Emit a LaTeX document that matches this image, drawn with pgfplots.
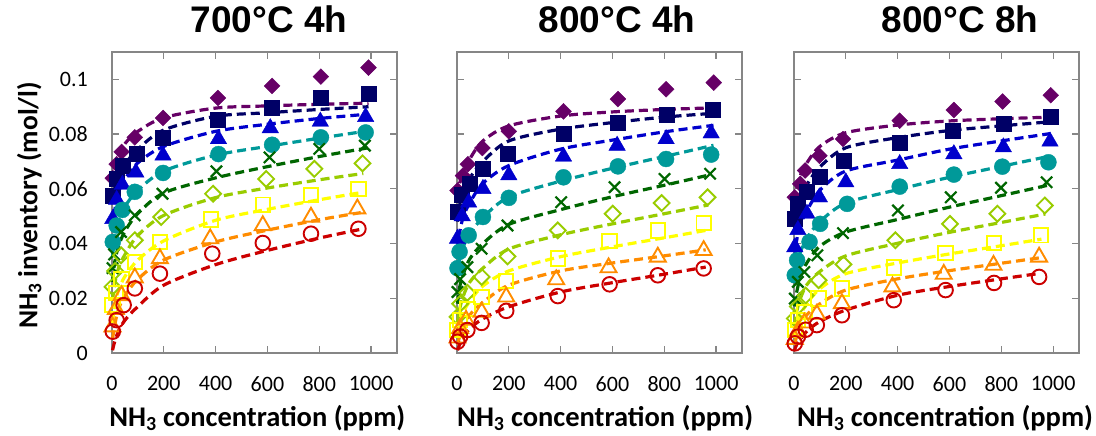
\documentclass[border=0pt]{standalone}
\usepackage{pgfplots}
\pgfplotsset{compat=1.18}
\usepackage{fontspec}
\setmainfont{Carlito}
\newfontfamily\titlefont{Liberation Sans}
\definecolor{cP}{RGB}{102,0,102}
\definecolor{cN}{RGB}{0,0,102}
\definecolor{cB}{RGB}{0,0,204}
\definecolor{cT}{RGB}{0,153,153}
\definecolor{cG}{RGB}{0,102,0}
\definecolor{cYG}{RGB}{153,204,0}
\definecolor{cY}{RGB}{255,255,0}
\definecolor{cO}{RGB}{255,140,0}
\definecolor{cR}{RGB}{204,0,0}
\definecolor{frame}{RGB}{134,134,134}
\pgfplotsset{
  panel/.style={
    scale only axis, width=285bp, height=301bp,
    xmin=0, xmax=1100, ymin=0, ymax=0.11, clip=false,
    xtick={0,200,400,600,800,1000},
    xticklabels={0,200,400,600,800,1000},
    ytick={0,0.02,0.04,0.06,0.08,0.1},
    tick align=inside, major tick length=7bp,
    axis line style={draw=frame, line width=1.2bp},
    tick style={draw=frame, line width=1.2bp},
    xticklabel style={font=\fontsize{22bp}{24bp}\selectfont, anchor=north, inner sep=0pt, yshift=-23bp},
    yticklabel style={font=\fontsize{22bp}{24bp}\selectfont, anchor=east, inner sep=0pt, xshift=-24bp},
    xlabel={NH\textsubscript{3} concentration (ppm)},
    xlabel style={font=\bfseries\fontsize{28.5bp}{30bp}\selectfont, anchor=center, inner sep=1bp, yshift=-65bp},
    title style={font=\titlefont\bfseries\fontsize{37bp}{40bp}\selectfont, anchor=base, yshift=13.4bp},
  },
  mP/.style={only marks, mark=square*, mark size=5.6bp, mark options={rotate=45, draw=cP, fill=cP}},
  mN/.style={only marks, mark=square*, mark size=7.5bp, mark options={draw=cN, fill=cN}},
  mB/.style={only marks, mark=triangle*, mark size=9.5bp, mark options={draw=cB, fill=cB}},
  mT/.style={only marks, mark=*, mark size=8bp, mark options={draw=cT, fill=cT}},
  mG/.style={only marks, mark=x, mark size=8bp, mark options={draw=cG, line width=2.2bp}},
  mYG/.style={only marks, mark=square, mark size=5.6bp, mark options={rotate=45, draw=cYG, line width=1.9bp}},
  mY/.style={only marks, mark=square, mark size=7.2bp, mark options={draw=cY, line width=1.9bp}},
  mO/.style={only marks, mark=triangle, mark size=9.2bp, mark options={draw=cO, line width=1.9bp}},
  mR/.style={only marks, mark=o, mark size=7.3bp, mark options={draw=cR, line width=1.9bp}},
  fit/.style={no marks, smooth, line width=3.2bp, dash pattern=on 9bp off 5bp},
}
\begin{document}
\begin{tikzpicture}
\useasboundingbox (0,0) rectangle (1096bp,436bp);
% ---------------- Panel 1 ----------------
\begin{axis}[panel, at={(112bp,83bp)}, anchor=south west,
  yticklabels={0,0.02,0.04,0.06,0.08,0.1},
  title={700°C 4h}, title style={at={(axis description cs:0.551,1)}},
  ylabel={NH\textsubscript{3} inventory (mol/l)},
  ylabel style={font=\bfseries\fontsize{27.5bp}{29bp}\selectfont, at={(axis description cs:-0.29,0.49)}, anchor=center},
  xlabel style={at={(axis description cs:0.51,0)}}]
\addplot[mP] coordinates {(3,0.0639)(18,0.069)(37,0.0735)(88,0.0788)(197,0.0859)(409,0.0932)(618,0.0976)(806,0.101)(990,0.1043)};
\addplot[mN] coordinates {(2,0.0575)(18,0.0636)(43,0.0685)(95,0.0727)(197,0.0788)(409,0.0852)(618,0.0897)(806,0.0934)(990,0.0948)};
\addplot[mB] coordinates {(3,0.049)(18,0.056)(40,0.0615)(92,0.066)(197,0.0722)(411,0.0782)(611,0.0822)(804,0.0846)(979,0.0863)};
\addplot[mT] coordinates {(3,0.0406)(18,0.0466)(40,0.0523)(88,0.0589)(197,0.0658)(411,0.0727)(618,0.0761)(806,0.0788)(979,0.0806)};
\addplot[mG] coordinates {(2,0.031)(8,0.036)(35,0.0442)(88,0.0503)(195,0.0582)(403,0.0664)(608,0.0715)(800,0.0746)(976,0.0758)};
\addplot[mYG] coordinates {(2,0.0242)(12,0.030)(35,0.0357)(88,0.0412)(190,0.0497)(390,0.0582)(595,0.0636)(781,0.0673)(967,0.0693)};
\addplot[mY] coordinates {(2,0.0175)(15,0.022)(37,0.027)(88,0.0333)(185,0.0406)(383,0.0488)(582,0.0542)(768,0.0578)(951,0.060)};
\addplot[mO] coordinates {(2,0.0096)(15,0.016)(37,0.021)(88,0.0275)(185,0.0345)(379,0.0418)(582,0.0466)(768,0.0497)(947,0.0527)};
\addplot[mR] coordinates {(3,0.0078)(18,0.012)(45,0.0175)(88,0.0236)(185,0.029)(387,0.0363)(582,0.0402)(768,0.0436)(951,0.0454)};
\addplot[fit, cP] coordinates {(2,0.062)(10,0.068)(25,0.072)(50,0.0765)(100,0.081)(200,0.086)(400,0.0895)(600,0.0903)(800,0.0909)(990,0.0913)};
\addplot[fit, cN] coordinates {(2,0.055)(10,0.060)(25,0.065)(50,0.069)(100,0.0745)(200,0.0815)(400,0.0865)(600,0.0878)(800,0.089)(990,0.090)};
\addplot[fit, cB] coordinates {(2,0.045)(10,0.052)(25,0.058)(50,0.0635)(100,0.0695)(200,0.0755)(400,0.081)(600,0.0836)(800,0.0857)(990,0.0873)};
\addplot[fit, cT] coordinates {(2,0.035)(10,0.042)(25,0.048)(50,0.0535)(100,0.0595)(200,0.0665)(400,0.0723)(600,0.0755)(800,0.0785)(990,0.0812)};
\addplot[fit, cG] coordinates {(2,0.026)(10,0.033)(25,0.039)(50,0.0445)(100,0.051)(200,0.0585)(400,0.064)(600,0.0681)(800,0.0718)(990,0.075)};
\addplot[fit, cYG] coordinates {(2,0.019)(10,0.025)(25,0.031)(50,0.036)(100,0.043)(200,0.0503)(400,0.0568)(600,0.0603)(800,0.0633)(970,0.0656)};
\addplot[fit, cY] coordinates {(2,0.011)(10,0.017)(25,0.023)(50,0.028)(100,0.034)(200,0.041)(400,0.0485)(600,0.0525)(800,0.056)(960,0.0586)};
\addplot[fit, cO] coordinates {(2,0.005)(10,0.010)(25,0.016)(50,0.021)(100,0.027)(200,0.034)(400,0.0406)(600,0.0449)(800,0.0487)(960,0.0513)};
\addplot[fit, cR] coordinates {(2,0.001)(10,0.004)(25,0.008)(50,0.012)(100,0.017)(200,0.0248)(400,0.0323)(600,0.0375)(800,0.042)(960,0.0452)};
\end{axis}
% ---------------- Panel 2 ----------------
\begin{axis}[panel, at={(457bp,83bp)}, anchor=south west,
  yticklabels={},
  title={800°C 4h}, title style={at={(axis description cs:0.561,1)}},
  xlabel style={at={(axis description cs:0.52,0)}}]
\addplot[mP] coordinates {(2,0.0594)(23,0.0648)(42,0.069)(98,0.0749)(200,0.081)(411,0.0883)(621,0.0928)(807,0.0964)(991,0.0988)};
\addplot[mN] coordinates {(2,0.0515)(20,0.058)(49,0.0618)(100,0.0673)(197,0.073)(411,0.080)(621,0.0843)(811,0.0871)(987,0.0888)};
\addplot[mB] coordinates {(2,0.0418)(20,0.050)(45,0.055)(100,0.060)(200,0.065)(411,0.0718)(618,0.0758)(807,0.0782)(981,0.0803)};
\addplot[mT] coordinates {(2,0.031)(10,0.037)(45,0.043)(100,0.0497)(200,0.0567)(411,0.0642)(621,0.0682)(807,0.0709)(981,0.0725)};
\addplot[mG] coordinates {(2,0.0223)(12,0.027)(40,0.0314)(95,0.0381)(195,0.0466)(402,0.0551)(608,0.0606)(801,0.0636)(977,0.0655)};
\addplot[mYG] coordinates {(2,0.0132)(12,0.018)(40,0.022)(95,0.0278)(195,0.0353)(389,0.0448)(601,0.0509)(790,0.0548)(967,0.0569)};
\addplot[mY] coordinates {(2,0.0084)(12,0.012)(40,0.016)(95,0.0205)(190,0.0263)(389,0.0345)(589,0.0409)(775,0.0448)(952,0.0475)};
\addplot[mO] coordinates {(2,0.0055)(12,0.009)(35,0.012)(95,0.015)(190,0.0205)(383,0.0268)(585,0.0312)(775,0.0351)(952,0.0375)};
\addplot[mR] coordinates {(2,0.0041)(12,0.006)(40,0.0084)(95,0.011)(190,0.0154)(389,0.0208)(589,0.0251)(775,0.0284)(952,0.0309)};
\addplot[fit, cP] coordinates {(2,0.057)(10,0.062)(25,0.066)(50,0.071)(100,0.0775)(200,0.083)(400,0.0866)(600,0.0881)(800,0.089)(990,0.0896)};
\addplot[fit, cN] coordinates {(2,0.048)(10,0.054)(25,0.059)(50,0.064)(100,0.070)(200,0.0775)(400,0.0818)(600,0.0842)(800,0.0862)(990,0.0876)};
\addplot[fit, cB] coordinates {(2,0.037)(10,0.044)(25,0.050)(50,0.055)(100,0.062)(200,0.0685)(400,0.0745)(600,0.0778)(800,0.0808)(990,0.0832)};
\addplot[fit, cT] coordinates {(2,0.028)(10,0.034)(25,0.039)(50,0.0435)(100,0.0495)(200,0.057)(400,0.0628)(600,0.0675)(800,0.0718)(990,0.0759)};
\addplot[fit, cG] coordinates {(2,0.018)(10,0.024)(25,0.029)(50,0.0345)(100,0.040)(200,0.047)(400,0.0524)(600,0.0571)(800,0.0613)(980,0.0652)};
\addplot[fit, cYG] coordinates {(2,0.011)(10,0.016)(25,0.021)(50,0.026)(100,0.031)(200,0.038)(400,0.0432)(600,0.0472)(800,0.0509)(970,0.0541)};
\addplot[fit, cY] coordinates {(2,0.006)(10,0.010)(25,0.015)(50,0.019)(100,0.0245)(200,0.030)(400,0.0352)(600,0.0388)(800,0.0421)(960,0.0448)};
\addplot[fit, cO] coordinates {(2,0.003)(10,0.006)(25,0.010)(50,0.014)(100,0.0185)(200,0.0248)(400,0.030)(600,0.0329)(800,0.0355)(960,0.0377)};
\addplot[fit, cR] coordinates {(2,0.001)(10,0.003)(25,0.006)(50,0.009)(100,0.0125)(200,0.0169)(400,0.0223)(600,0.0257)(800,0.0288)(960,0.0314)};
\end{axis}
% ---------------- Panel 3 ----------------
\begin{axis}[panel, at={(794bp,83bp)}, anchor=south west,
  yticklabels={},
  title={800°C 8h}, title style={at={(axis description cs:0.582,1)}},
  xlabel style={at={(axis description cs:0.53,0)}}]
\addplot[mP] coordinates {(3,0.0569)(24,0.0618)(43,0.0667)(98,0.0721)(189,0.0782)(408,0.0849)(617,0.0888)(805,0.0919)(991,0.0942)};
\addplot[mN] coordinates {(3,0.049)(15,0.0545)(50,0.0588)(101,0.0645)(191,0.0703)(408,0.077)(614,0.0812)(808,0.0839)(991,0.0863)};
\addplot[mB] coordinates {(3,0.0387)(15,0.045)(50,0.0509)(98,0.0569)(200,0.0624)(408,0.0691)(617,0.0727)(808,0.0752)(988,0.0773)};
\addplot[mT] coordinates {(3,0.0284)(12,0.0339)(60,0.0406)(101,0.0472)(205,0.0545)(408,0.0608)(617,0.0652)(804,0.0681)(982,0.0697)};
\addplot[mG] coordinates {(3,0.0199)(15,0.026)(40,0.0296)(90,0.0357)(189,0.0438)(401,0.0521)(605,0.0569)(799,0.0604)(975,0.0624)};
\addplot[mYG] coordinates {(3,0.0126)(15,0.017)(45,0.021)(95,0.0266)(191,0.0324)(391,0.0412)(602,0.0472)(785,0.0509)(968,0.0539)};
\addplot[mY] coordinates {(3,0.0084)(15,0.012)(40,0.015)(95,0.0199)(185,0.0236)(385,0.0312)(585,0.0365)(772,0.0402)(953,0.043)};
\addplot[mO] coordinates {(3,0.005)(15,0.008)(40,0.011)(88,0.0142)(185,0.0181)(380,0.0242)(578,0.0288)(770,0.0321)(946,0.0351)};
\addplot[mR] coordinates {(3,0.0035)(15,0.006)(45,0.0085)(88,0.0102)(185,0.0138)(385,0.0193)(585,0.023)(772,0.0256)(946,0.0278)};
\addplot[fit, cP] coordinates {(2,0.055)(10,0.060)(25,0.065)(50,0.0695)(100,0.0755)(200,0.0805)(400,0.0833)(600,0.0848)(800,0.0856)(990,0.0862)};
\addplot[fit, cN] coordinates {(2,0.045)(10,0.051)(25,0.056)(50,0.0615)(100,0.068)(200,0.075)(400,0.0787)(600,0.0813)(800,0.083)(990,0.0845)};
\addplot[fit, cB] coordinates {(2,0.034)(10,0.041)(25,0.047)(50,0.052)(100,0.0595)(200,0.0665)(400,0.0705)(600,0.0745)(800,0.0775)(990,0.0802)};
\addplot[fit, cT] coordinates {(2,0.026)(10,0.032)(25,0.037)(50,0.042)(100,0.048)(200,0.0548)(400,0.0597)(600,0.0642)(800,0.0682)(980,0.0718)};
\addplot[fit, cG] coordinates {(2,0.017)(10,0.022)(25,0.028)(50,0.033)(100,0.039)(200,0.0442)(400,0.0488)(600,0.0533)(800,0.0575)(980,0.0613)};
\addplot[fit, cYG] coordinates {(2,0.010)(10,0.015)(25,0.020)(50,0.025)(100,0.0298)(200,0.0355)(400,0.0401)(600,0.0441)(800,0.0477)(970,0.0508)};
\addplot[fit, cY] coordinates {(2,0.006)(10,0.010)(25,0.014)(50,0.018)(100,0.0235)(200,0.029)(400,0.0329)(600,0.0362)(800,0.0392)(955,0.0416)};
\addplot[fit, cO] coordinates {(2,0.003)(10,0.006)(25,0.010)(50,0.014)(100,0.018)(200,0.023)(400,0.0271)(600,0.0301)(800,0.0328)(950,0.0348)};
\addplot[fit, cR] coordinates {(2,0.001)(10,0.003)(25,0.005)(50,0.008)(100,0.0115)(200,0.0157)(400,0.0211)(600,0.0243)(800,0.0271)(950,0.0291)};
\end{axis}
\end{tikzpicture}
\end{document}
